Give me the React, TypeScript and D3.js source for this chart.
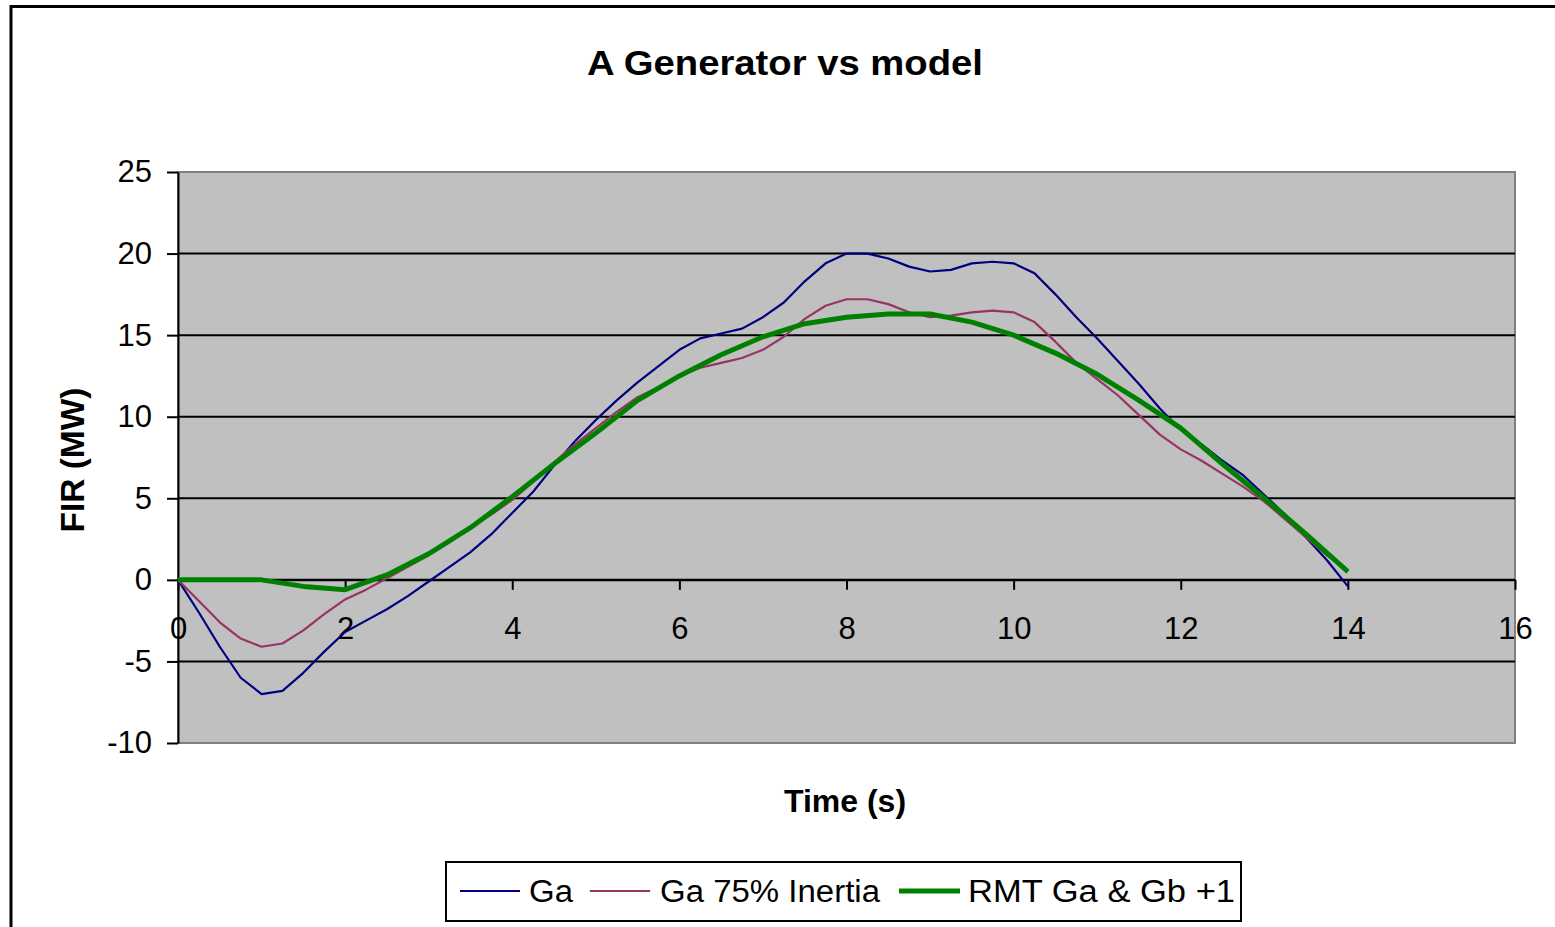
import React, { useRef, useEffect } from 'react';
import * as d3 from 'd3';

// time axis (s) for the two Ga traces, and for the RMT model
const timeFine = [0, 0.25, 0.5, 0.75, 1, 1.25, 1.5, 1.75, 2, 2.25, 2.5, 2.75, 3, 3.25, 3.5, 3.75, 4, 4.25, 4.5, 4.75,
  5, 5.25, 5.5, 5.75, 6, 6.25, 6.5, 6.75, 7, 7.25, 7.5, 7.75, 8, 8.25, 8.5, 8.75, 9, 9.25, 9.5, 9.75,
  10, 10.25, 10.5, 10.75, 11, 11.25, 11.5, 11.75, 12, 12.25, 12.5, 12.75, 13, 13.25, 13.5, 13.75, 14];
const timeCoarse = [0, 0.5, 1, 1.5, 2, 2.5, 3, 3.5, 4, 4.5, 5, 5.5, 6, 6.5, 7, 7.5, 8, 8.5, 9, 9.5,
  10, 10.5, 11, 11.5, 12, 12.5, 13, 13.5, 14];

const ga = [0, -2.0, -4.1, -6.0, -7.0, -6.8, -5.7, -4.4, -3.2, -2.5, -1.8, -1.0, -0.1, 0.8, 1.7, 2.8, 4.1, 5.4, 7.0, 8.5,
  9.8, 11.0, 12.1, 13.1, 14.1, 14.8, 15.1, 15.4, 16.1, 17.0, 18.3, 19.4, 20.0, 20.0, 19.7, 19.2, 18.9, 19.0, 19.4, 19.5,
  19.4, 18.8, 17.5, 16.1, 14.8, 13.4, 12.0, 10.5, 9.2, 8.3, 7.3, 6.4, 5.2, 4.0, 2.6, 1.2, -0.4];
const ga75 = [0, -1.3, -2.6, -3.6, -4.1, -3.9, -3.1, -2.1, -1.2, -0.6, 0.1, 0.8, 1.5, 2.3, 3.2, 4.0, 4.9, 6.0, 7.2, 8.3,
  9.3, 10.3, 11.2, 11.8, 12.5, 13.0, 13.3, 13.6, 14.1, 14.9, 16.0, 16.8, 17.2, 17.2, 16.9, 16.4, 16.1, 16.2, 16.4, 16.5,
  16.4, 15.8, 14.6, 13.3, 12.3, 11.3, 10.1, 8.9, 8.0, 7.3, 6.5, 5.7, 4.8, 3.7, 2.6, 1.5, 0.5];
const rmt = [0, 0, 0, -0.4, -0.6, 0.3, 1.6, 3.2, 5.1, 7.1, 9.0, 11.0, 12.5, 13.8, 14.9, 15.7, 16.1, 16.3, 16.3, 15.8,
  15.0, 13.9, 12.6, 11.0, 9.3, 7.1, 5.0, 2.8, 0.5];

const xTicks = [0, 2, 4, 6, 8, 10, 12, 14, 16];
const yTicks = [-10, -5, 0, 5, 10, 15, 20, 25];
const gridValues = [-5, 0, 5, 10, 15, 20];

const seriesNames = ['Ga', 'Ga 75% Inertia', 'RMT Ga & Gb +1'];
const seriesColors = ['#000080', '#993366', '#008000'];

const FONT = 'Arial, "Liberation Sans", sans-serif';

const App = () => {
  const ref = useRef(null);

  useEffect(() => {
    const svg = d3.select(ref.current);
    svg.selectAll('*').remove();

    const left = 178, right = 1515, top = 172, bottom = 743;
    const x = d3.scaleLinear().domain([0, 16]).range([left, right]);
    const y = d3.scaleLinear().domain([-10, 25]).range([bottom, top]);

    // outer chart frame
    svg.append('rect')
      .attr('x', 11).attr('y', 6.5)
      .attr('width', 1700).attr('height', 1000)
      .attr('fill', '#fff').attr('stroke', '#000').attr('stroke-width', 3);

    // plot area
    svg.append('rect')
      .attr('x', left).attr('y', top)
      .attr('width', right - left).attr('height', bottom - top)
      .attr('fill', '#c0c0c0').attr('stroke', '#808080').attr('stroke-width', 2);

    svg.append('g').selectAll('line')
      .data(gridValues)
      .join('line')
        .attr('x1', left).attr('x2', right)
        .attr('y1', d => y(d)).attr('y2', d => y(d))
        .attr('stroke', '#000').attr('stroke-width', 2);

    // y axis
    const yAxis = svg.append('g')
      .attr('transform', `translate(${left},0)`)
      .call(d3.axisLeft(y).tickValues(yTicks).tickFormat(d => String(d))
        .tickSize(11).tickSizeOuter(0).tickPadding(15));
    yAxis.select('.domain').attr('stroke', '#000').attr('stroke-width', 2);
    yAxis.selectAll('.tick line').attr('stroke', '#000').attr('stroke-width', 2);
    yAxis.selectAll('text').attr('font-family', FONT).attr('font-size', 31).attr('fill', '#000');

    // x axis crosses at 0
    const xAxis = svg.append('g')
      .attr('transform', `translate(0,${y(0)})`)
      .call(d3.axisBottom(x).tickValues(xTicks).tickFormat(d => String(d))
        .tickSize(10).tickSizeOuter(0).tickPadding(27));
    xAxis.select('.domain').attr('stroke', '#000').attr('stroke-width', 2);
    xAxis.selectAll('.tick line').attr('stroke', '#000').attr('stroke-width', 2);
    xAxis.selectAll('text').attr('font-family', FONT).attr('font-size', 31).attr('fill', '#000');

    const line = d3.line().x(d => x(d[0])).y(d => y(d[1]));
    const series = [
      { t: timeFine, v: ga, w: 2.2 },
      { t: timeFine, v: ga75, w: 2.2 },
      { t: timeCoarse, v: rmt, w: 5 },
    ];
    series.forEach((s, i) => {
      svg.append('path')
        .datum(s.t.map((t, j) => [t, s.v[j]]))
        .attr('fill', 'none')
        .attr('stroke', seriesColors[i])
        .attr('stroke-width', s.w)
        .attr('stroke-linejoin', 'round')
        .attr('d', line);
    });

    // titles
    svg.append('text')
      .attr('x', 785).attr('y', 75)
      .attr('text-anchor', 'middle')
      .attr('font-family', FONT).attr('font-weight', 'bold').attr('font-size', 35)
      .attr('textLength', 396).attr('lengthAdjust', 'spacingAndGlyphs')
      .text('A Generator vs model');

    svg.append('text')
      .attr('transform', 'translate(84,460) rotate(-90)')
      .attr('text-anchor', 'middle')
      .attr('font-family', FONT).attr('font-weight', 'bold').attr('font-size', 33)
      .attr('textLength', 145).attr('lengthAdjust', 'spacingAndGlyphs')
      .text('FIR (MW)');

    svg.append('text')
      .attr('x', 845).attr('y', 812)
      .attr('text-anchor', 'middle')
      .attr('font-family', FONT).attr('font-weight', 'bold').attr('font-size', 32)
      .text('Time (s)');

    // legend
    svg.append('rect')
      .attr('x', 446).attr('y', 862)
      .attr('width', 795).attr('height', 59)
      .attr('fill', '#fff').attr('stroke', '#000').attr('stroke-width', 2);

    const legendItems = [
      { x1: 460, x2: 520, tx: 529, w: 2.2, len: 44 },
      { x1: 590, x2: 650, tx: 660, w: 2.2, len: 220 },
      { x1: 899, x2: 960, tx: 968, w: 5, len: 267 },
    ];
    legendItems.forEach((it, i) => {
      svg.append('line')
        .attr('x1', it.x1).attr('x2', it.x2)
        .attr('y1', 891).attr('y2', 891)
        .attr('stroke', seriesColors[i]).attr('stroke-width', it.w);
      svg.append('text')
        .attr('x', it.tx).attr('y', 902)
        .attr('font-family', FONT).attr('font-size', 31)
        .attr('textLength', it.len).attr('lengthAdjust', 'spacingAndGlyphs')
        .text(seriesNames[i]);
    });
  }, []);

  return (
    <svg ref={ref} width={1555} height={927}
      style={{ position: 'absolute', left: 0, top: 0, display: 'block', background: '#fff' }} />
  );
};

export default App;
